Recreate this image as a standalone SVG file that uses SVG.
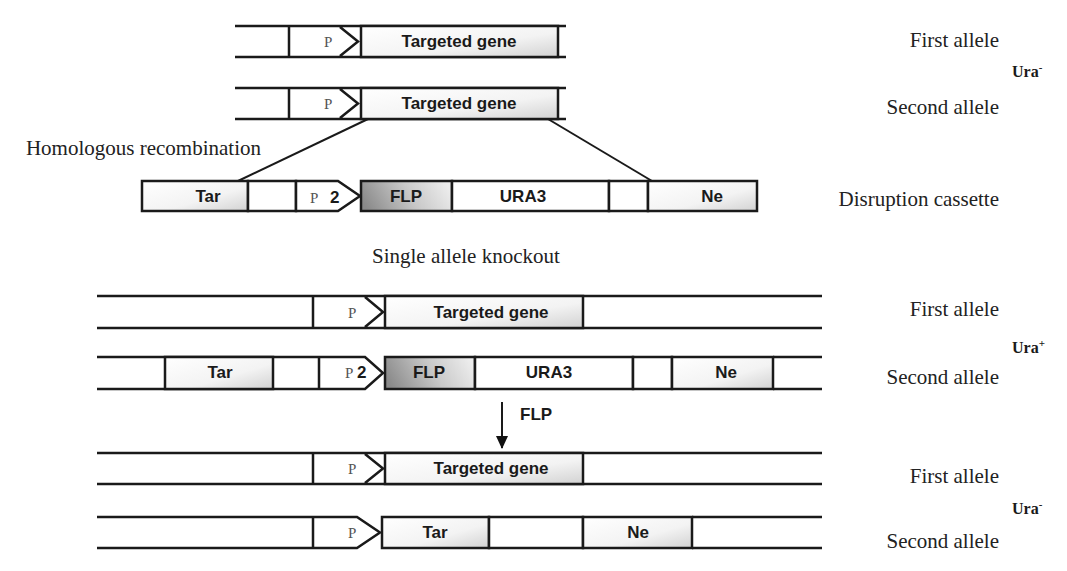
<svg xmlns="http://www.w3.org/2000/svg" width="1067" height="571" viewBox="0 0 1067 571">
  <defs>
    <linearGradient id="gLight" x1="0" y1="0" x2="1" y2="1">
      <stop offset="0" stop-color="#ffffff"/>
      <stop offset="0.6" stop-color="#f3f3f3"/>
      <stop offset="1" stop-color="#d2d2d2"/>
    </linearGradient>
    <linearGradient id="gDark" x1="0" y1="0.6" x2="1" y2="0.4">
      <stop offset="0" stop-color="#8a8a8a"/>
      <stop offset="0.55" stop-color="#c9c9c9"/>
      <stop offset="1" stop-color="#ececec"/>
    </linearGradient>
    <!-- filled triangular head, drawn along +x and rotated to the line direction -->
    <marker id="arrowHead" viewBox="0 0 13 12" refX="12" refY="6" markerWidth="13" markerHeight="12" markerUnits="userSpaceOnUse" orient="auto">
      <path d="M0,0 L13,6 L0,12 Z" fill="#111"/>
    </marker>
    <style>
      .ln { stroke: #1a1a1a; stroke-width: 2.5; fill: none; }
      .seg { stroke: #1a1a1a; stroke-width: 2.5; fill: #ffffff; }
      .lt { stroke: #1a1a1a; stroke-width: 2.5; fill: url(#gLight); }
      .dk { stroke: #1a1a1a; stroke-width: 2.5; fill: url(#gDark); }
      .gene { font-family: "Liberation Sans", Arial, sans-serif; font-weight: bold; font-size: 17px; fill: #1a1a1a; text-anchor: middle; }
      .prom { font-family: "Liberation Serif", "Times New Roman", serif; font-size: 15px; fill: #555555; }
      .two { font-family: "Liberation Sans", Arial, sans-serif; font-weight: bold; font-size: 17px; fill: #1a1a1a; }
      .lbl { font-family: "Liberation Serif", "Times New Roman", serif; font-size: 21px; fill: #222222; }
      .ura { font-family: "Liberation Serif", "Times New Roman", serif; font-weight: bold; font-size: 16px; fill: #1a1a1a; }
      .sup { font-size: 11px; }
      .conn { stroke: #1a1a1a; stroke-width: 2; fill: none; }
    </style>
  </defs>

  <rect x="0" y="0" width="1067" height="571" fill="#ffffff"/>

  <!-- Wild-type first allele -->
  <g id="wt-first-allele">
    <path class="ln" d="M235,26 H566 M235,57 H566 M289,26 V57 M340,27 L358,41.5 L340,56"/>
    <rect class="lt" x="361" y="26" width="197" height="31"/>
    <text class="prom" x="324" y="47">P</text>
    <text class="gene" x="459" y="47">Targeted gene</text>
  </g>

  <!-- Wild-type second allele -->
  <g id="wt-second-allele">
    <path class="ln" d="M235,88 H566 M235,119 H566 M289,88 V119 M340,89 L358,103.5 L340,118"/>
    <rect class="lt" x="361" y="88" width="197" height="31"/>
    <text class="prom" x="324" y="109">P</text>
    <text class="gene" x="459" y="109">Targeted gene</text>
  </g>

  <!-- Disruption cassette -->
  <g id="disruption-cassette">
    <rect class="lt" x="142" y="181" width="106" height="30"/>
    <rect class="seg" x="248" y="181" width="48" height="30"/>
    <path class="seg" d="M296,181 H338 L360,196 L338,211 H296 Z"/>
    <rect class="dk" x="361" y="181" width="91" height="30"/>
    <rect class="seg" x="452" y="181" width="157" height="30"/>
    <rect class="seg" x="609" y="181" width="39" height="30"/>
    <rect class="lt" x="648" y="181" width="109" height="30"/>
    <text class="gene" x="208" y="202">Tar</text>
    <text class="prom" x="310" y="203">P<tspan class="two" x="330">2</tspan></text>
    <text class="gene" x="406" y="202">FLP</text>
    <text class="gene" x="523" y="202">URA3</text>
    <text class="gene" x="712" y="202">Ne</text>
  </g>

  <!-- Heterozygote: first allele -->
  <g id="het-first-allele">
    <path class="ln" d="M97,296 H822 M97,328 H822 M313,296 V328 M365,297 L383,312 L365,327"/>
    <rect class="lt" x="385" y="296" width="198" height="32"/>
    <text class="prom" x="348" y="318">P</text>
    <text class="gene" x="491" y="318">Targeted gene</text>
  </g>

  <!-- Heterozygote: second allele carrying the cassette -->
  <g id="het-second-allele">
    <path class="ln" d="M97,357 H365 L383,373 L365,389 H97 M319,357 V389 M773,357 H822 M773,389 H822"/>
    <rect class="lt" x="165" y="357" width="108" height="32"/>
    <rect class="dk" x="385" y="357" width="90" height="32"/>
    <rect class="seg" x="475" y="357" width="158" height="32"/>
    <rect class="seg" x="633" y="357" width="39" height="32"/>
    <rect class="lt" x="672" y="357" width="101" height="32"/>
    <text class="gene" x="220" y="378">Tar</text>
    <text class="prom" x="345" y="378">P<tspan class="two" x="357">2</tspan></text>
    <text class="gene" x="429" y="378">FLP</text>
    <text class="gene" x="549" y="378">URA3</text>
    <text class="gene" x="726" y="378">Ne</text>
  </g>

  <!-- After excision: first allele -->
  <g id="exc-first-allele">
    <path class="ln" d="M97,453 H822 M97,484 H822 M313,453 V484 M365,454 L383,468.5 L365,483"/>
    <rect class="lt" x="385" y="453" width="198" height="31"/>
    <text class="prom" x="348" y="474">P</text>
    <text class="gene" x="491" y="474">Targeted gene</text>
  </g>

  <!-- After excision: second allele -->
  <g id="exc-second-allele">
    <path class="ln" d="M97,517 H357 L380,532.5 L357,548 H97 M313,517 V548 M692,517 H822 M692,548 H822"/>
    <rect class="lt" x="382" y="517" width="107" height="31"/>
    <rect class="seg" x="489" y="517" width="94" height="31"/>
    <rect class="lt" x="583" y="517" width="109" height="31"/>
    <text class="prom" x="348" y="538">P</text>
    <text class="gene" x="435" y="538">Tar</text>
    <text class="gene" x="638" y="538">Ne</text>
  </g>

  <!-- Connectors: homologous crossover lines and FLP excision step -->
  <g id="connectors">
    <line class="conn" x1="368" y1="119" x2="238" y2="181"/>
    <line class="conn" x1="548" y1="119" x2="652" y2="181"/>
    <line class="conn" x1="502" y1="402" x2="502" y2="448" marker-end="url(#arrowHead)"/>
    <text class="gene" x="520" y="420" style="text-anchor:start">FLP</text>
  </g>

  <!-- Captions -->
  <g id="captions">
    <text class="lbl" x="261" y="155" text-anchor="end">Homologous recombination</text>
    <text class="lbl" x="372" y="263">Single allele knockout</text>
    <text class="lbl" x="999" y="47" text-anchor="end">First allele</text>
    <text class="ura" x="1012" y="77">Ura<tspan class="sup" dy="-6">-</tspan></text>
    <text class="lbl" x="999" y="114" text-anchor="end">Second allele</text>
    <text class="lbl" x="999" y="206" text-anchor="end">Disruption cassette</text>
    <text class="lbl" x="999" y="316" text-anchor="end">First allele</text>
    <text class="ura" x="1012" y="353">Ura<tspan class="sup" dy="-6">+</tspan></text>
    <text class="lbl" x="999" y="384" text-anchor="end">Second allele</text>
    <text class="lbl" x="999" y="483" text-anchor="end">First allele</text>
    <text class="ura" x="1012" y="514">Ura<tspan class="sup" dy="-6">-</tspan></text>
    <text class="lbl" x="999" y="548" text-anchor="end">Second allele</text>
  </g>
</svg>
